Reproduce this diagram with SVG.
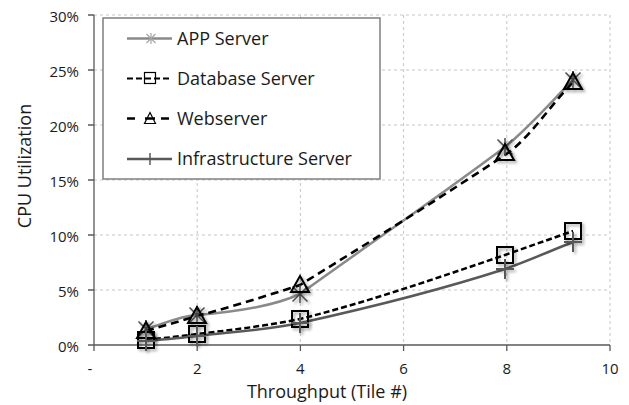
<svg xmlns="http://www.w3.org/2000/svg" width="629" height="405" viewBox="0 0 629 405">
<style>
text{font-family:"Open Sans","Liberation Sans",sans-serif;fill:#1a1a1a}
.tick{font-size:15px}
.ylab{text-anchor:end}
.xlab{text-anchor:middle}
.title{font-size:18px}
.leg{font-size:18px}
.grid{stroke:#c6c6c6;stroke-width:1;stroke-dasharray:3 3;fill:none}
.axis{stroke:#595959;stroke-width:1.3;fill:none}
.app{stroke:#8a8a8a;stroke-width:2.5;fill:none}
.db{stroke:#000;stroke-width:2.5;stroke-dasharray:6 3;fill:none}
.web{stroke:#000;stroke-width:2.6;stroke-dasharray:8 5;fill:none}
.inf{stroke:#595959;stroke-width:2.5;fill:none}
.mk-app{stroke:#4d4d4d;stroke-width:1.5;fill:none}
.mk-db{stroke:#000;stroke-width:2;fill:none}
.mk-web{stroke:#000;stroke-width:2;fill:none}
.mk-inf{stroke:#595959;stroke-width:2;fill:none}
</style>
<defs>
<filter id="sh" x="-50%" y="-50%" width="200%" height="200%">
<feDropShadow dx="2" dy="2" stdDeviation="1.5" flood-color="#000" flood-opacity="0.35"/>
</filter>
<g id="ast"><path d="M0,-9V9M-7.5,-7.5L7.5,7.5M-7.5,7.5L7.5,-7.5"/></g>
<g id="sq"><rect x="-8" y="-8" width="16" height="16"/></g>
<g id="tri"><path d="M0,-9L9,7H-9Z"/></g>
<g id="plus"><path d="M0,-10V10M-9,0H9"/></g>
</defs>
<rect width="629" height="405" fill="#fff"/>
<g id="grid">
<path class="grid" d="M94,15H610M94,70H610M94,125H610M94,180H610M94,235H610M94,290H610"/>
<path class="grid" d="M197.2,15V345M300.4,15V345M403.6,15V345M506.8,15V345M610,15V345"/>
</g>
<g id="axes">
<path class="axis" d="M94,15V345M88,15H94M88,70H94M88,125H94M88,180H94M88,235H94M88,290H94M88,345H94"/>
<path class="axis" d="M94,345H610M94,345V351M197.2,345V351M300.4,345V351M403.6,345V351M506.8,345V351M610,345V351"/>
<g class="tick">
<text class="ylab" x="79" y="21.5">30%</text>
<text class="ylab" x="79" y="76.5">25%</text>
<text class="ylab" x="79" y="131.5">20%</text>
<text class="ylab" x="79" y="186.5">15%</text>
<text class="ylab" x="79" y="241.5">10%</text>
<text class="ylab" x="79" y="296.5">5%</text>
<text class="ylab" x="79" y="351.5">0%</text>
<text class="xlab" x="90" y="373.5">-</text>
<text class="xlab" x="197.2" y="373.5">2</text>
<text class="xlab" x="300.4" y="373.5">4</text>
<text class="xlab" x="403.6" y="373.5">6</text>
<text class="xlab" x="506.8" y="373.5">8</text>
<text class="xlab" x="610" y="373.5">10</text>
</g>
<text class="title xlab" x="327" y="398">Throughput (Tile #)</text>
<text class="title xlab" transform="translate(31,166) rotate(-90)">CPU Utilization</text>
</g>
<g id="connectors">
<path id="line-app" class="app" d="M146,329C163,324 180,316 197,315C235,312 272,307 300,294C368,245 437,198 505,147C528,128.6 550,103 573,80"/>
<path id="line-db" class="db" d="M146,340C163,338 180,336.5 197,334C231,330 266,326 300,319C368,302 437,278 505,255C528,247 550,239 573,231"/>
<path id="line-web" class="web" d="M146,331C163,326 180,321 197,316C231,307 266,296 300,285C368,243 437,200 505,155C528,140 550,106 573,82"/>
<path id="line-inf" class="inf" d="M146,341C163,339.5 180,338 197,336C231,332 266,330 300,323C368,308 437,291 505,269C528,261 550,251 573,242"/>
</g>
<g id="series-app" class="mk-app" filter="url(#sh)">
<use href="#ast" x="146" y="329"/><use href="#ast" x="197" y="315"/><use href="#ast" x="300" y="294"/><use href="#ast" x="505" y="147"/><use href="#ast" x="573" y="80"/>
</g>
<g id="series-db" class="mk-db" filter="url(#sh)">
<use href="#sq" x="146" y="340"/><use href="#sq" x="197" y="334"/><use href="#sq" x="300" y="319"/><use href="#sq" x="505" y="255"/><use href="#sq" x="573" y="231"/>
</g>
<g id="series-web" class="mk-web" filter="url(#sh)">
<use href="#tri" x="146" y="331"/><use href="#tri" x="197" y="316"/><use href="#tri" x="300" y="285"/><use href="#tri" x="505" y="153"/><use href="#tri" x="573" y="82"/>
</g>
<g id="series-inf" class="mk-inf" filter="url(#sh)">
<use href="#plus" x="146" y="341"/><use href="#plus" x="197" y="336"/><use href="#plus" x="300" y="323"/><use href="#plus" x="505" y="269"/><use href="#plus" x="573" y="242"/>
</g>
<g id="legend">
<rect x="103" y="18" width="277" height="161" fill="#fff" stroke="#7f7f7f" stroke-width="1.5"/>
<g id="leg-app">
<path class="app" d="M127,38.5H172"/>
<path d="M151,33V44M146.5,34L155.5,43M146.5,43L155.5,34" stroke="#a6a6a6" stroke-width="1.2" fill="none"/>
<text class="leg" x="177" y="44.5">APP Server</text>
</g>
<g id="leg-db">
<path d="M127,78.5H172" stroke="#000" stroke-width="2.2" stroke-dasharray="6 3" fill="none"/>
<rect x="144.5" y="72.5" width="11" height="11" fill="none" stroke="#000" stroke-width="1.2"/>
<text class="leg" x="177" y="85">Database Server</text>
</g>
<g id="leg-web">
<path d="M127,118.5H135M145,118.5H155M161,118.5H169" stroke="#000" stroke-width="2.4" fill="none"/>
<path d="M150,112.5L155.5,123.5H144.5Z" fill="none" stroke="#000" stroke-width="1.2"/>
<text class="leg" x="177" y="124.5">Webserver</text>
</g>
<g id="leg-inf">
<path class="inf" d="M127,159H172"/>
<path d="M150,153V165" stroke="#595959" stroke-width="1.5"/>
<text class="leg" x="177" y="165">Infrastructure Server</text>
</g>
</g>
</svg>
